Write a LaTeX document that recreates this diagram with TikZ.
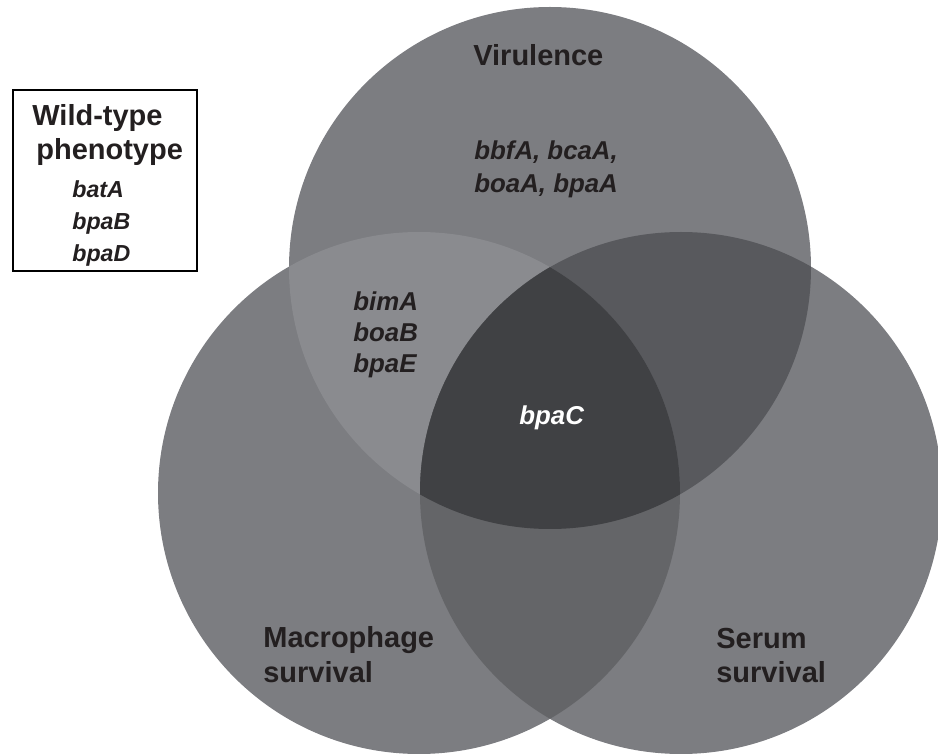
\documentclass[tikz,border=0pt]{standalone}
\usepackage{fontspec}
\setmainfont{Liberation Sans}
\usetikzlibrary{positioning}
\definecolor{vennout}{RGB}{124,125,129}
\definecolor{vennvm}{RGB}{138,139,143}
\definecolor{vennvs}{RGB}{88,89,93}
\definecolor{vennms}{RGB}{100,101,104}
\definecolor{venncore}{RGB}{64,65,68}
\definecolor{inkdark}{RGB}{35,31,32}
\tikzset{setname/.style={font=\fontsize{16.5}{19.8}\selectfont\bfseries, text=inkdark, inner sep=0pt, anchor=base west}}
\tikzset{gene/.style={font=\fontsize{14.7}{18}\selectfont\bfseries\itshape, text=inkdark, inner sep=0pt, anchor=base west}}
\tikzset{boxgene/.style={gene, font=\fontsize{13.2}{18}\selectfont\bfseries\itshape}}

\begin{document}
\begin{tikzpicture}[x=0.02cm,y=0.02cm]
\useasboundingbox (0,0) rectangle (938,755);
\def\rad{261}
\coordinate (vir) at (550,487);
\coordinate (mac) at (419,262);
\coordinate (ser) at (681,262);
% the three sets
\fill [vennout] (vir) circle (\rad) (mac) circle (\rad) (ser) circle (\rad);
\begin{scope}
\clip (vir) circle (\rad);
\fill [vennvm] (mac) circle (\rad);
\fill [vennvs] (ser) circle (\rad);
\end{scope}
\begin{scope}
\clip (mac) circle (\rad);
\fill [vennms] (ser) circle (\rad);
\end{scope}
\begin{scope}
\clip (vir) circle (\rad);
\clip (mac) circle (\rad);
\fill [venncore] (ser) circle (\rad);
\end{scope}
% set names
\node (tvir) [setname] at (473,689) {Virulence};
\node (tmac1) [setname] at (263,107) {Macrophage};
\node (tmac2) [setname] at (263,72) {survival};
\node (tser1) [setname] at (716,106) {Serum};
\node (tser2) [setname] at (716,72) {survival};
% genes
\node (gv1) [gene] at (474,595) {bbfA, bcaA,};
\node (gv2) [gene] at (474,562) {boaA, bpaA};
\node (gvm1) [gene] at (353,444) {bimA};
\node (gvm2) [gene] at (353,413) {boaB};
\node (gvm3) [gene] at (353,382) {bpaE};
\node (gcore) [gene, text=white] at (519,330) {bpaC};
% wild-type box
\node (wtbox) [draw=black, line width=1.1pt, minimum width=3.68cm, minimum height=3.62cm, inner sep=0pt] at (105,574.5) {};
\node (wt1) [setname] at (32,629) {Wild-type};
\node (wt2) [setname] at (36,595) {phenotype};
\node (wg1) [boxgene] at (72,557) {batA};
\node (wg2) [boxgene] at (72,525) {bpaB};
\node (wg3) [boxgene] at (72,493) {bpaD};
\end{tikzpicture}
\end{document}
